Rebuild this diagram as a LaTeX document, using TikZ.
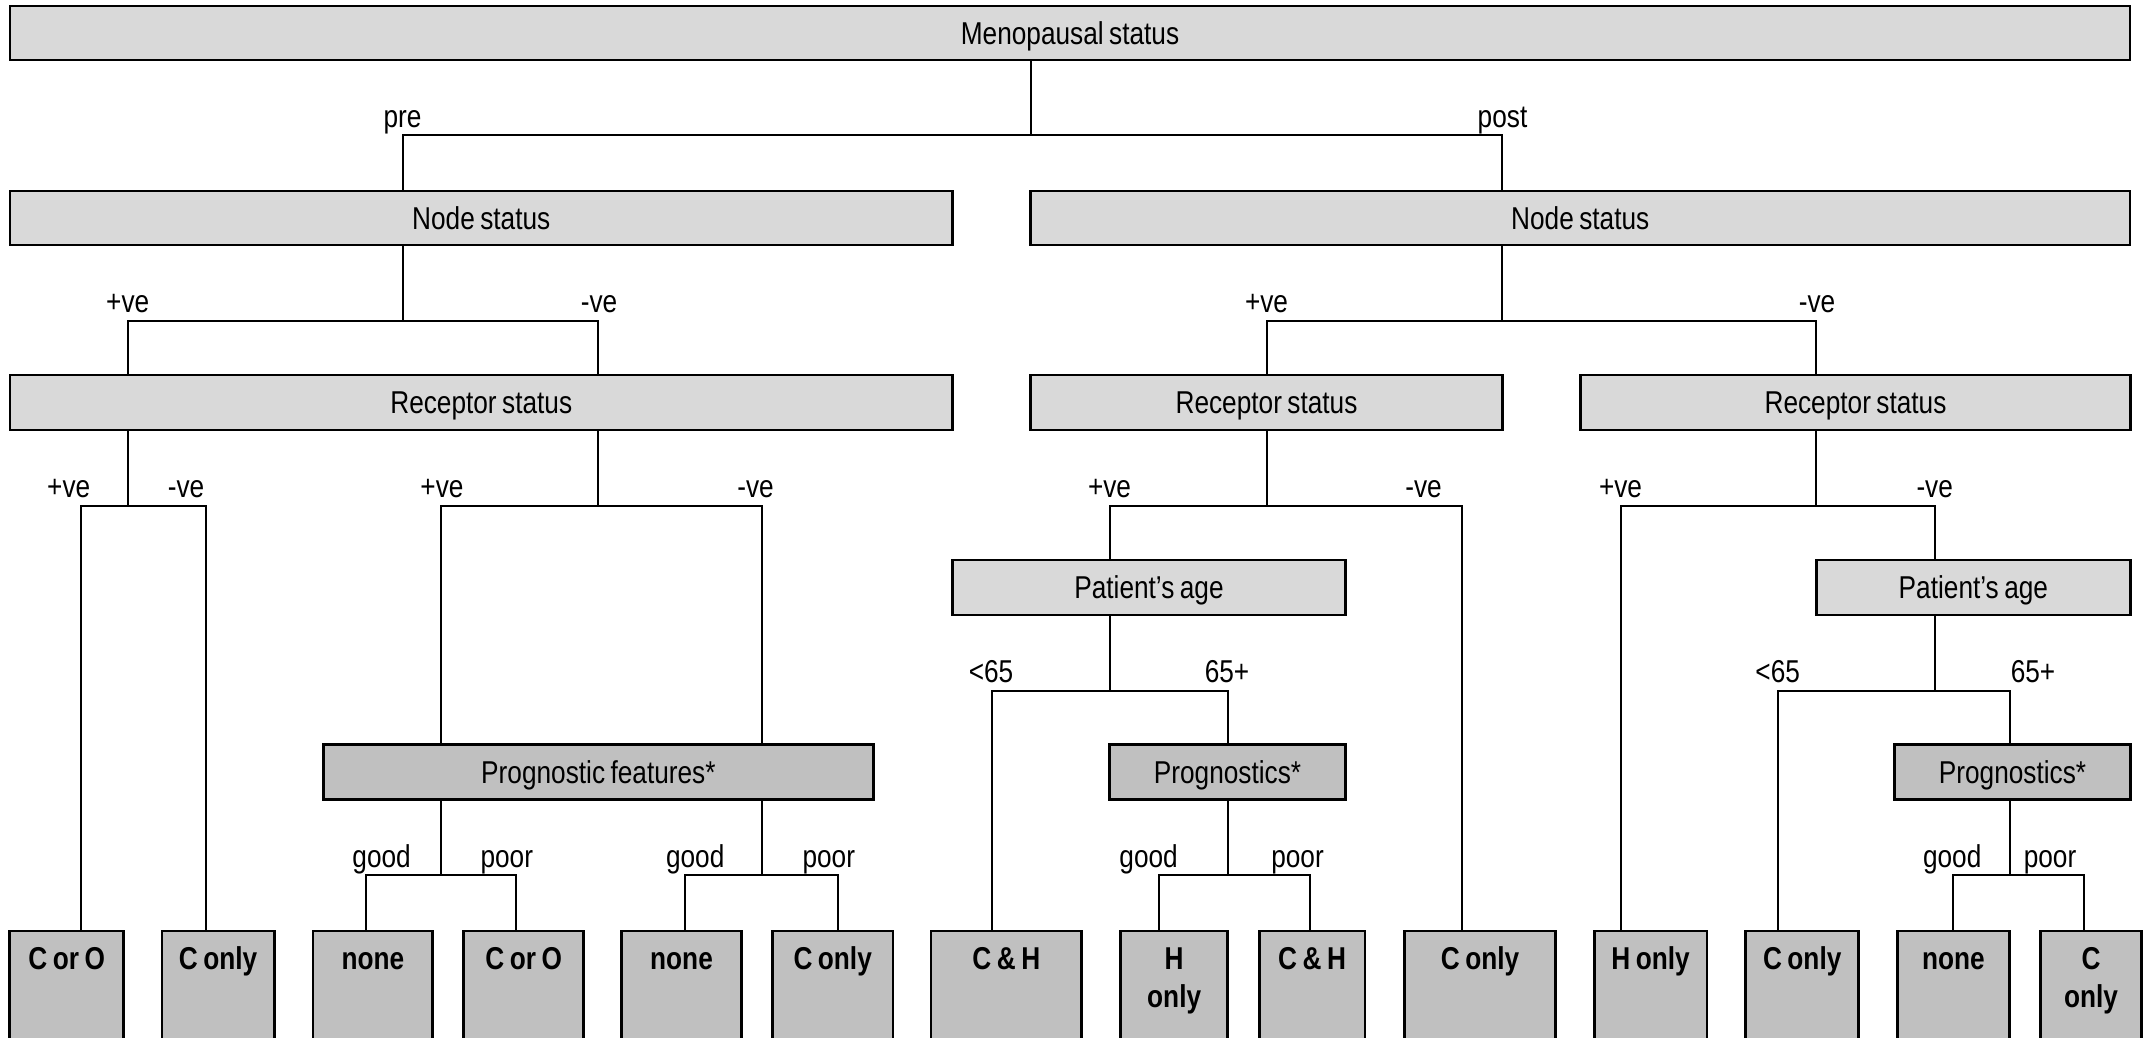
\documentclass[tikz,border=0pt]{standalone}
\usepackage{fontspec}
\setmainfont{Liberation Sans}[FakeStretch=0.83, WordSpace=0.75]
\usepackage{tikz}
\definecolor{lightbox}{RGB}{217,217,217}
\definecolor{midbox}{RGB}{192,192,192}
\newcommand{\leafspace}{\spaceskip=5.5pt\relax}

\begin{document}
\begin{tikzpicture}[x=1pt, y=-1pt,
  txt/.style={font=\fontsize{31.6}{38}\selectfont},
  box/.style={draw, line width=2.8pt, fill=lightbox, inner sep=0pt, minimum height=55pt, text height=22.6pt, text depth=0pt, txt},
  prog/.style={box, fill=midbox},
  leaf/.style={draw, line width=2.8pt, fill=midbox, anchor=north, inner sep=0pt, align=center, text width=#1, text height=38.5pt, text depth=130pt, font=\fontsize{31.6}{38}\selectfont\bfseries, execute at begin node=\leafspace},
  lbl/.style={anchor=base, inner sep=0pt, txt},
  conn/.style={line width=2pt}]
  \useasboundingbox (0,0) rectangle (2145,1037);
  \clip (0,0) rectangle (2145,1037);
  \fill[white] (0,0) rectangle (2145,1037);

  % decision boxes
  \node[box, minimum width=2120pt, minimum height=54pt] (menop) at (1070,33) {Menopausal status};
  \node[box, minimum width=942.5pt, minimum height=54pt] (nodeL) at (481.25,218) {Node status};
  \node[box, minimum width=1099.5pt, minimum height=54pt] (nodeR) at (1580.25,218) {Node status};
  \node[box, minimum width=942.5pt] (recL) at (481.25,402.5) {Receptor status};
  \node[box, minimum width=472pt] (recM) at (1266.5,402.5) {Receptor status};
  \node[box, minimum width=550pt] (recR) at (1855.5,402.5) {Receptor status};
  \node[box, minimum width=392.7pt] (ageM) at (1149,587.5) {Patient’s age};
  \node[box, minimum width=314pt] (ageR) at (1973.4,587.5) {Patient’s age};
  \node[prog, minimum width=550pt] (progL) at (598.4,772.2) {Prognostic features*};
  \node[prog, minimum width=236pt] (progM) at (1227.5,772.2) {Prognostics*};
  \node[prog, minimum width=236pt] (progR) at (2012.5,772.2) {Prognostics*};

  % outcomes
  \node[leaf=113.7pt] (l1) at (66.65,929.5) {C or O};
  \node[leaf=112.3pt] (l2) at (218.15,929.5) {C only};
  \node[leaf=119.9pt] (l3) at (372.85,929.5) {none};
  \node[leaf=120pt] (l4) at (523.7,929.5) {C or O};
  \node[leaf=120pt] (l5) at (681.5,929.5) {none};
  \node[leaf=120.6pt] (l6) at (832.7,929.5) {C only};
  \node[leaf=150.7pt] (l7) at (1006.35,929.5) {C \& H};
  \node[leaf=107.3pt] (l8) at (1174.15,929.5) {H\\only};
  \node[leaf=105.8pt] (l9) at (1312.1,929.5) {C \& H};
  \node[leaf=151.1pt] (l10) at (1480.15,929.5) {C only};
  \node[leaf=112.5pt] (l11) at (1650.65,929.5) {H only};
  \node[leaf=113.2pt] (l12) at (1802.2,929.5) {C only};
  \node[leaf=111.7pt] (l13) at (1953.35,929.5) {none};
  \node[leaf=100.8pt] (l14) at (2091,929.5) {C\\only};

  % menopausal status
  \coordinate (j1) at (1030.5,135); \coordinate (j1a) at (402.5,135); \coordinate (j1b) at (1502.4,135);
  \draw[conn] (menop.south -| j1) -- (j1);
  \draw[conn] (nodeL.north -| j1a) -- (j1a) -- (j1b) -- (nodeR.north -| j1b);
  \node[lbl] (pre) at (402.5,127) {pre};
  \node[lbl] (post) at (1502.5,127) {post};

  % node status, pre
  \coordinate (j2) at (402.5,320.5); \coordinate (j2a) at (127.7,320.5); \coordinate (j2b) at (598.4,320.5);
  \draw[conn] (nodeL.south -| j2) -- (j2);
  \draw[conn] (recL.north -| j2a) -- (j2a) -- (j2b) -- (recL.north -| j2b);
  \node[lbl] (npos1) at (127.7,312) {+ve};
  \node[lbl] (nneg1) at (599,312) {-ve};

  % node status, post
  \coordinate (j3) at (1502.4,320.5); \coordinate (j3a) at (1266.5,320.5); \coordinate (j3b) at (1816.4,320.5);
  \draw[conn] (nodeR.south -| j3) -- (j3);
  \draw[conn] (recM.north -| j3a) -- (j3a) -- (j3b) -- (recR.north -| j3b);
  \node[lbl] (npos2) at (1266.5,312) {+ve};
  \node[lbl] (nneg2) at (1817,312) {-ve};

  % receptor status
  \coordinate (j4) at (127.7,505.5); \coordinate (j4a) at (81.4,505.5); \coordinate (j4b) at (205.5,505.5);
  \draw[conn] (recL.south -| j4) -- (j4);
  \draw[conn] (l1.north -| j4a) -- (j4a) -- (j4b) -- (l2.north -| j4b);
  \node[lbl] (rpos1) at (68.7,497) {+ve};
  \node[lbl] (rneg1) at (186,497) {-ve};

  \coordinate (j5) at (598.4,505.5); \coordinate (j5a) at (440.5,505.5); \coordinate (j5b) at (761.8,505.5);
  \draw[conn] (recL.south -| j5) -- (j5);
  \draw[conn] (progL.north -| j5a) -- (j5a) -- (j5b) -- (progL.north -| j5b);
  \node[lbl] (rpos2) at (442,497) {+ve};
  \node[lbl] (rneg2) at (755.5,497) {-ve};

  \coordinate (j6) at (1266.5,505.5); \coordinate (j6a) at (1109.5,505.5); \coordinate (j6b) at (1462.2,505.5);
  \draw[conn] (recM.south -| j6) -- (j6);
  \draw[conn] (ageM.north -| j6a) -- (j6a) -- (j6b) -- (l10.north -| j6b);
  \node[lbl] (rpos3) at (1109.5,497) {+ve};
  \node[lbl] (rneg3) at (1423.6,497) {-ve};

  \coordinate (j7) at (1816.4,505.5); \coordinate (j7a) at (1620.7,505.5); \coordinate (j7b) at (1934.7,505.5);
  \draw[conn] (recR.south -| j7) -- (j7);
  \draw[conn] (l11.north -| j7a) -- (j7a) -- (j7b) -- (ageR.north -| j7b);
  \node[lbl] (rpos4) at (1620.5,497) {+ve};
  \node[lbl] (rneg4) at (1934.7,497) {-ve};

  % patient's age
  \coordinate (j8) at (1109.5,690.7); \coordinate (j8a) at (992,690.7); \coordinate (j8b) at (1227.8,690.7);
  \draw[conn] (ageM.south -| j8) -- (j8);
  \draw[conn] (l7.north -| j8a) -- (j8a) -- (j8b) -- (progM.north -| j8b);
  \node[lbl] (young1) at (991,682.5) {<65};
  \node[lbl] (old1) at (1227,682.5) {65+};

  \coordinate (j9) at (1934.7,690.7); \coordinate (j9a) at (1777.7,690.7); \coordinate (j9b) at (2010,690.7);
  \draw[conn] (ageR.south -| j9) -- (j9);
  \draw[conn] (l12.north -| j9a) -- (j9a) -- (j9b) -- (progR.north -| j9b);
  \node[lbl] (young2) at (1777.7,682.5) {<65};
  \node[lbl] (old2) at (2033,682.5) {65+};

  % prognostics
  \coordinate (j10) at (440.5,874.5); \coordinate (j10a) at (365.5,874.5); \coordinate (j10b) at (515.6,874.5);
  \draw[conn] (progL.south -| j10) -- (j10);
  \draw[conn] (l3.north -| j10a) -- (j10a) -- (j10b) -- (l4.north -| j10b);
  \node[lbl] (good1) at (381.6,867) {good};
  \node[lbl] (poor1) at (506.8,867) {poor};

  \coordinate (j11) at (761.8,874.5); \coordinate (j11a) at (685.4,874.5); \coordinate (j11b) at (837.6,874.5);
  \draw[conn] (progL.south -| j11) -- (j11);
  \draw[conn] (l5.north -| j11a) -- (j11a) -- (j11b) -- (l6.north -| j11b);
  \node[lbl] (good2) at (695.2,867) {good};
  \node[lbl] (poor2) at (828.8,867) {poor};

  \coordinate (j12) at (1227.8,874.5); \coordinate (j12a) at (1158.5,874.5); \coordinate (j12b) at (1309.6,874.5);
  \draw[conn] (progM.south -| j12) -- (j12);
  \draw[conn] (l8.north -| j12a) -- (j12a) -- (j12b) -- (l9.north -| j12b);
  \node[lbl] (good3) at (1148.6,867) {good};
  \node[lbl] (poor3) at (1297.5,867) {poor};

  \coordinate (j13) at (2010,874.5); \coordinate (j13a) at (1953,874.5); \coordinate (j13b) at (2084.4,874.5);
  \draw[conn] (progR.south -| j13) -- (j13);
  \draw[conn] (l13.north -| j13a) -- (j13a) -- (j13b) -- (l14.north -| j13b);
  \node[lbl] (good4) at (1952.2,867) {good};
  \node[lbl] (poor4) at (2050,867) {poor};
\end{tikzpicture}
\end{document}
